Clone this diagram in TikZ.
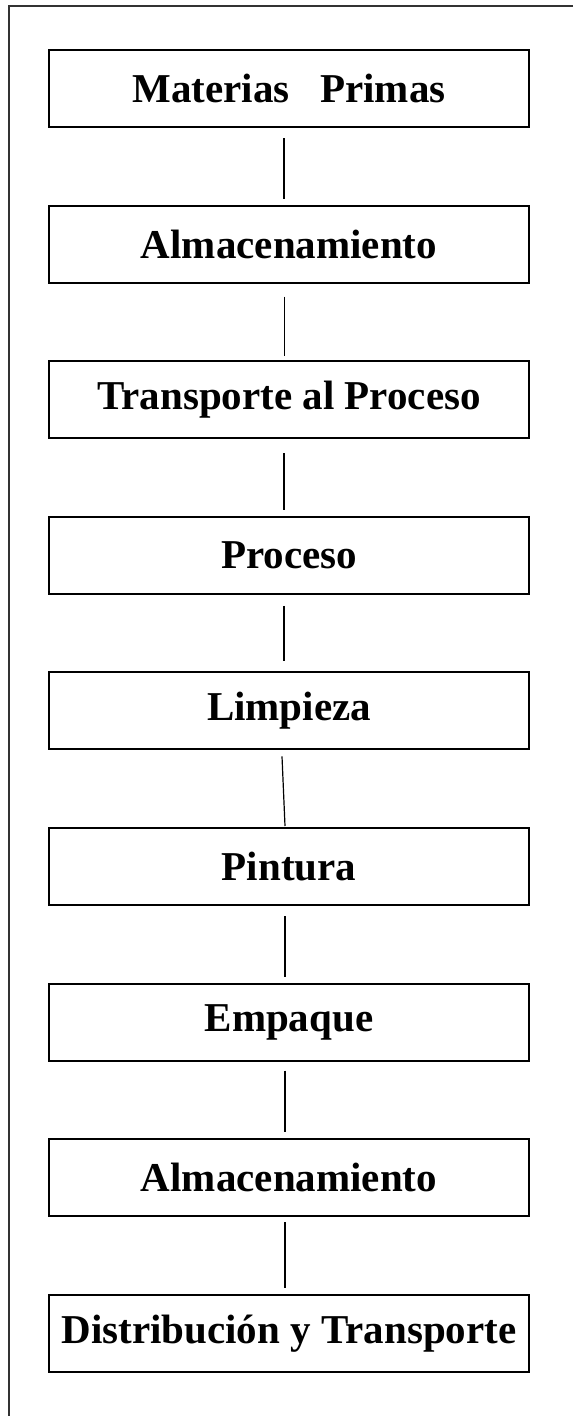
\documentclass[tikz,border=0pt]{standalone}
\usepackage{fontspec}
\setmainfont{Liberation Serif}
\usetikzlibrary{calc}
\tikzset{
  stepbox/.style={draw=black, line width=2pt, rectangle, minimum width=480pt,
    minimum height=77pt, inner sep=0pt, fill=white,
    font=\bfseries\fontsize{41}{48}\selectfont},
  link/.style={draw=black, line width=1.2pt},
  frameline/.style={draw=black!80, line width=1.6pt}
}
\begin{document}
\begin{tikzpicture}[x=1pt, y=-1pt]
\useasboundingbox (0,0) rectangle (573,1416);
\fill[white] (0,0) rectangle (573,1416);
\coordinate (ftr) at (573,6);
\coordinate (ftl) at (9,6);
\coordinate (fbl) at (9,1416);
\draw[frameline] (ftr) -- (ftl) -- (fbl);

\node[stepbox] (b1) at (289, 88.5)  {Materias\ \ \ Primas};
\node[stepbox] (b2) at (289, 244.1) {Almacenamiento};
\node[stepbox] (b3) at (289, 399.7) {Transporte al Proceso};
\node[stepbox] (b4) at (289, 555.3) {Proceso};
\node[stepbox] (b5) at (289, 710.9) {Limpieza};
\node[stepbox] (b6) at (289, 866.5) {Pintura};
\node[stepbox] (b7) at (289, 1022.1) {Empaque};
\node[stepbox] (b8) at (289, 1177.7) {Almacenamiento};
\node[stepbox] (b9) at (289, 1333.3) {Distribución y Transporte};

\draw[link] ($(b1.south)+(-5,10)$) -- ($(b2.north)+(-5,-6)$);
\draw[link] ($(b2.south)+(-4.5,13)$) -- ($(b3.north)+(-4.5,-4)$);
\draw[link] ($(b3.south)+(-5,14)$) -- ($(b4.north)+(-5,-6)$);
\draw[link] ($(b4.south)+(-5,11)$) -- ($(b5.north)+(-5,-10)$);
\draw[link] ($(b5.south)+(-7,6)$) -- ($(b6.north)+(-4,-1)$);
\draw[link] ($(b6.south)+(-4,10)$) -- ($(b7.north)+(-4,-6)$);
\draw[link] ($(b7.south)+(-4,9)$) -- ($(b8.north)+(-4,-6)$);
\draw[link] ($(b8.south)+(-4,5)$) -- ($(b9.north)+(-4,-6)$);
\end{tikzpicture}
\end{document}
